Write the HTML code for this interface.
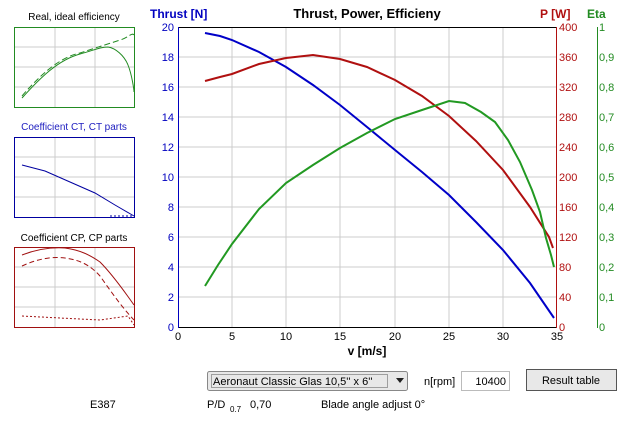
<!DOCTYPE html>
<html><head><meta charset="utf-8"><style>
body{margin:0;background:#fff;width:623px;height:420px;overflow:hidden;font-family:"Liberation Sans",sans-serif;}
svg text{font-family:"Liberation Sans",sans-serif;}
</style></head><body>
<svg width="623" height="420" xmlns="http://www.w3.org/2000/svg">
<rect width="623" height="420" fill="#fff"/>
<!-- side panels -->
<text x="74" y="20" font-size="10" text-anchor="middle" fill="#000">Real, ideal efficiency</text>
<g stroke="#ccc" stroke-width="1">
<line x1="55" y1="28" x2="55" y2="107"/><line x1="95" y1="28" x2="95" y2="107"/>
<line x1="15" y1="47" x2="134" y2="47"/><line x1="15" y1="67" x2="134" y2="67"/><line x1="15" y1="87" x2="134" y2="87"/>
<line x1="55" y1="138" x2="55" y2="217"/><line x1="95" y1="138" x2="95" y2="217"/>
<line x1="15" y1="157" x2="134" y2="157"/><line x1="15" y1="177" x2="134" y2="177"/><line x1="15" y1="197" x2="134" y2="197"/>
<line x1="55" y1="248" x2="55" y2="327"/><line x1="95" y1="248" x2="95" y2="327"/>
<line x1="15" y1="267" x2="134" y2="267"/><line x1="15" y1="287" x2="134" y2="287"/><line x1="15" y1="307" x2="134" y2="307"/>
</g>
<rect x="14.5" y="27.5" width="120" height="80" fill="none" stroke="#228b22"/>
<path d="M22,96 C40,75 60,57 80,53 C95,48 105,45 120,40 C128,38 132,32 134,35" fill="none" stroke="#228b22" stroke-dasharray="6,3"/>
<path d="M22,98 C40,78 58,60 80,54 C95,50 100,47 108,47 C115,48 124,55 128,65 C132,75 134,90 134,92" fill="none" stroke="#228b22"/>
<text x="74" y="130" font-size="10" text-anchor="middle" fill="#2020c0">Coefficient CT, CT parts</text>
<rect x="14.5" y="137.5" width="120" height="80" fill="none" stroke="#0000a0"/>
<path d="M22,165 L45,171 L70,182 L95,193 L115,205 L134,216" fill="none" stroke="#0000a0"/>
<path d="M110,216 L134,216" stroke="#0000a0" stroke-dasharray="2,2"/>
<text x="74" y="241" font-size="10" text-anchor="middle" fill="#000">Coefficient CP, CP parts</text>
<rect x="14.5" y="247.5" width="120" height="80" fill="none" stroke="#a01010"/>
<path d="M22,255 C35,250 50,247 65,248 C80,250 90,255 100,262 C110,272 120,285 134,305" fill="none" stroke="#a01010"/>
<path d="M22,266 C35,260 50,256 65,258 C80,260 90,265 100,276 C110,290 120,305 134,320" fill="none" stroke="#a01010" stroke-dasharray="5,3"/>
<path d="M22,316 L60,318 L100,320 L128,316 L134,325" fill="none" stroke="#a01010" stroke-dasharray="2,2"/>
<!-- main grid -->
<g stroke="#ccc" stroke-width="1">
<line x1="232" y1="27" x2="232" y2="327"/><line x1="286" y1="27" x2="286" y2="327"/><line x1="340" y1="27" x2="340" y2="327"/><line x1="395" y1="27" x2="395" y2="327"/><line x1="449" y1="27" x2="449" y2="327"/><line x1="503" y1="27" x2="503" y2="327"/>
<line x1="178" y1="57" x2="557" y2="57"/><line x1="178" y1="87" x2="557" y2="87"/><line x1="178" y1="117" x2="557" y2="117"/><line x1="178" y1="147" x2="557" y2="147"/><line x1="178" y1="177" x2="557" y2="177"/><line x1="178" y1="207" x2="557" y2="207"/><line x1="178" y1="237" x2="557" y2="237"/><line x1="178" y1="267" x2="557" y2="267"/><line x1="178" y1="297" x2="557" y2="297"/>
</g>
<line x1="178" y1="27.5" x2="557" y2="27.5" stroke="#000"/>
<line x1="178" y1="327.5" x2="557" y2="327.5" stroke="#000"/>
<line x1="178.5" y1="27" x2="178.5" y2="328" stroke="#0000c0"/>
<line x1="556.5" y1="27" x2="556.5" y2="328" stroke="#b01010"/>
<line x1="597.5" y1="27" x2="597.5" y2="328" stroke="#228b22"/>
<g font-size="11" fill="#0000c0" text-anchor="end">
<text x="174" y="31">20</text><text x="174" y="61">18</text><text x="174" y="91">16</text><text x="174" y="121">14</text><text x="174" y="151">12</text><text x="174" y="181">10</text><text x="174" y="211">8</text><text x="174" y="241">6</text><text x="174" y="271">4</text><text x="174" y="301">2</text><text x="174" y="331">0</text>
</g>
<g font-size="11" fill="#b01010">
<text x="559" y="31">400</text><text x="559" y="61">360</text><text x="559" y="91">320</text><text x="559" y="121">280</text><text x="559" y="151">240</text><text x="559" y="181">200</text><text x="559" y="211">160</text><text x="559" y="241">120</text><text x="559" y="271">80</text><text x="559" y="301">40</text><text x="559" y="331">0</text>
</g>
<g font-size="11" fill="#228b22">
<text x="599" y="31">1</text><text x="599" y="61">0,9</text><text x="599" y="91">0,8</text><text x="599" y="121">0,7</text><text x="599" y="151">0,6</text><text x="599" y="181">0,5</text><text x="599" y="211">0,4</text><text x="599" y="241">0,3</text><text x="599" y="271">0,2</text><text x="599" y="301">0,1</text><text x="599" y="331">0</text>
</g>
<g font-size="11" fill="#000" text-anchor="middle">
<text x="178" y="340">0</text><text x="232" y="340">5</text><text x="286" y="340">10</text><text x="340" y="340">15</text><text x="395" y="340">20</text><text x="449" y="340">25</text><text x="503" y="340">30</text><text x="557" y="340">35</text>
</g>
<text x="367" y="355" font-size="12" font-weight="bold" text-anchor="middle">v [m/s]</text>
<text x="150" y="18" font-size="12" font-weight="bold" fill="#0000c0">Thrust [N]</text>
<text x="367" y="18" font-size="13" font-weight="bold" text-anchor="middle">Thrust, Power, Efficieny</text>
<text x="540" y="18" font-size="12" font-weight="bold" fill="#b01010">P [W]</text>
<text x="587" y="18" font-size="12" font-weight="bold" fill="#228b22">Eta</text>
<!-- series -->
<polyline fill="none" stroke="#0000c8" stroke-width="2" points="205,33 220,36 232,40 259,52 286,67 313,85 340,105 367,127 395,150 422,172 449,195 476,222 503,250 530,283 554,318"/>
<polyline fill="none" stroke="#b01010" stroke-width="2" points="205,81 220,77 232,74 259,64 286,58 313,55 340,59 367,67 395,80 422,96 449,116 476,141 503,170 530,207 549,237 553,248"/>
<polyline fill="none" stroke="#229922" stroke-width="2" points="205,286 218,265 232,244 259,209 286,183 313,165 340,148 367,133 395,119 422,110 449,101 465,103 481,112 495,122 508,140 520,162 532,190 540,212 546,238 551,255 554,267"/>
<!-- bottom controls -->
<rect x="207.5" y="371.5" width="200" height="19" rx="2" fill="#e8e8e8" stroke="#888"/>
<rect x="211.5" y="374.5" width="176" height="13" fill="none" stroke="#555" stroke-dasharray="1,1"/>
<text x="213" y="385" font-size="11">Aeronaut Classic Glas 10,5'' x 6''</text>
<path d="M396,378 L404,378 L400,383 Z" fill="#222"/>
<text x="424" y="385" font-size="11">n[rpm]</text>
<rect x="461.5" y="371.5" width="48" height="19" fill="#fff" stroke="#bbb"/>
<text x="506" y="385" font-size="11" text-anchor="end">10400</text>
<rect x="526.5" y="369.5" width="90" height="21" fill="#e8e8e8" stroke="#555"/>
<text x="571" y="384" font-size="11" text-anchor="middle">Result table</text>
<text x="90" y="408" font-size="11">E387</text>
<text x="207" y="408" font-size="11">P/D</text><text x="230" y="412" font-size="8">0.7</text>
<text x="250" y="408" font-size="11">0,70</text>
<text x="321" y="408" font-size="11">Blade angle adjust 0°</text>
</svg>
</body></html>
